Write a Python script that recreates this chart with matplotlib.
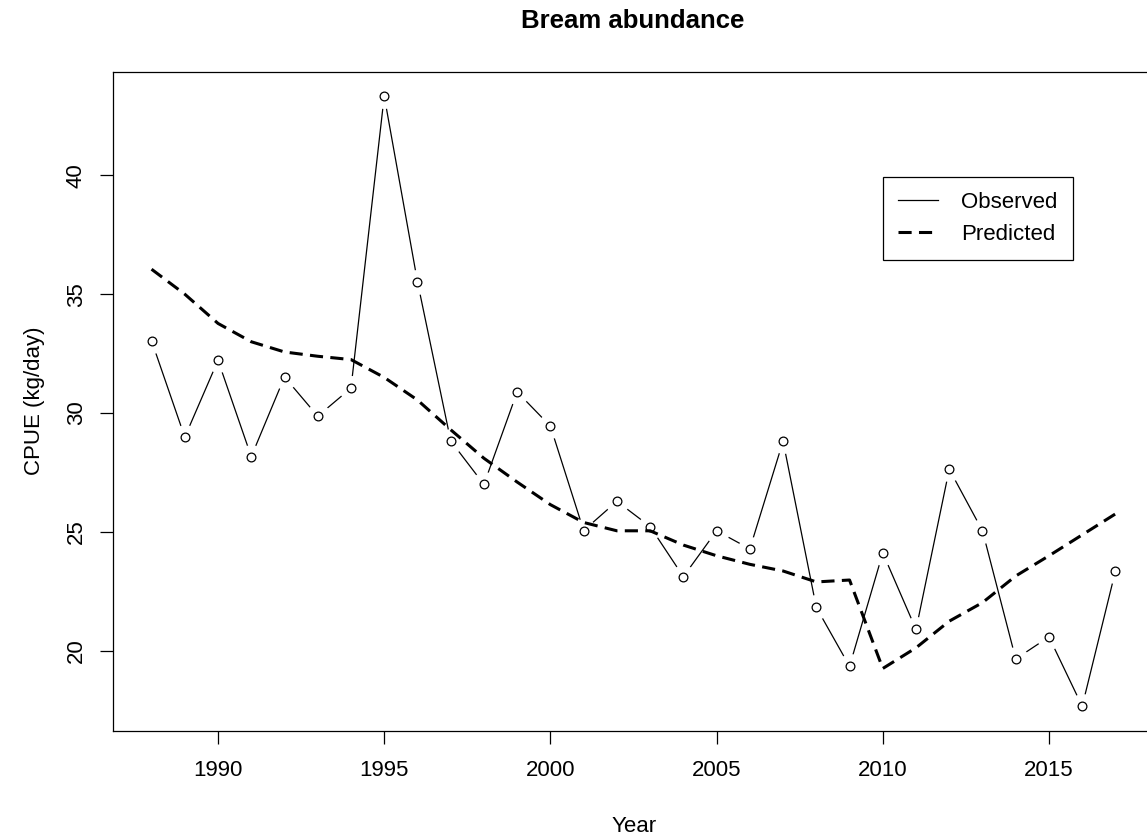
import matplotlib
matplotlib.use("Agg")
import matplotlib.pyplot as plt

plt.rcParams['font.family'] = ['Liberation Sans', 'DejaVu Sans']

# data
years = [1988, 1989, 1990, 1991, 1992, 1993, 1994, 1995, 1996, 1997,
         1998, 1999, 2000, 2001, 2002, 2003, 2004, 2005, 2006, 2007,
         2008, 2009, 2010, 2011, 2012, 2013, 2014, 2015, 2016, 2017]
observed = [33.04, 28.99, 32.22, 28.17, 31.52, 29.87, 31.05, 43.33, 35.53, 28.83,
            27.00, 30.89, 29.45, 25.06, 26.29, 25.23, 23.12, 25.05, 24.29, 28.82,
            21.83, 19.35, 24.12, 20.90, 27.64, 25.05, 19.66, 20.59, 17.67, 23.36]
predicted = [36.05, 35.00, 33.77, 33.00, 32.57, 32.39, 32.25, 31.50, 30.55, 29.30,
             28.10, 27.10, 26.15, 25.40, 25.05, 25.05, 24.45, 24.00, 23.64, 23.36,
             22.90, 22.98, 19.26, 20.13, 21.25, 22.03, 23.15, 24.00, 24.88, 25.76]
xticks = [1990, 1995, 2000, 2005, 2010, 2015]
yticks = [20, 25, 30, 35, 40]

W, H = 1147, 839
fig = plt.figure(figsize=(W / 100, H / 100), dpi=100)
# plot box (right edge falls just outside the image, as in the original)
left, right, top, bottom = 113, 1154, 71.7, 730.7
ax = fig.add_axes([left / W, 1 - bottom / H, (right - left) / W, (bottom - top) / H])

# R style axis limits: 4% padding on each side
def r_lim(vals):
    lo, hi = min(vals), max(vals)
    pad = 0.04 * (hi - lo)
    return lo - pad, hi + pad

ax.set_xlim(*r_lim(years))
ax.set_ylim(*r_lim(observed + predicted))

# observed: thin line with gaps around open circles (type = "b")
ax.plot(years, observed, color='black', lw=0.9, zorder=2)
ax.plot(years, observed, linestyle='none', marker='o', ms=18,
        mfc='white', mec='none', zorder=3)
ax.plot(years, predicted, color='black', lw=2.2, dashes=(4.3, 2.4), zorder=4)
ax.plot(years, observed, linestyle='none', marker='o', ms=6.3,
        mfc='none', mec='black', mew=0.9, zorder=5)

# legend handles
h_obs, = ax.plot([], [], color='black', lw=0.9, label='Observed')
h_pred, = ax.plot([], [], color='black', lw=2.2, dashes=(4.3, 2.4), label='Predicted')
leg = ax.legend(handles=[h_obs, h_pred], loc='upper left',
                bbox_to_anchor=(882.7 / W, 1 - 176.5 / H),
                bbox_transform=fig.transFigure, fontsize=16,
                frameon=True, fancybox=False, framealpha=1, edgecolor='black',
                borderaxespad=0, borderpad=0.68, handlelength=1.8,
                handletextpad=1.05, labelspacing=0.5)
leg.get_frame().set_linewidth(0.9)

ax.set_xticks(xticks)
ax.set_yticks(yticks)
ax.tick_params(axis='both', direction='out', length=9.4, width=0.9,
               labelsize=16, color='black')
ax.tick_params(axis='x', pad=11.5)
ax.tick_params(axis='y', pad=9.5)
for lab in ax.get_yticklabels():
    lab.set_rotation(90)
    lab.set_va('center')
for sp in ax.spines.values():
    sp.set_linewidth(0.9)
    sp.set_color('black')

fig.text(633 / W, 1 - 21 / H, 'Bream abundance', ha='center', va='center',
         fontsize=18.5, fontweight='bold')
fig.text(634 / W, 1 - 826 / H, 'Year', ha='center', va='center', fontsize=16)
fig.text(35 / W, 1 - 401 / H, 'CPUE (kg/day)', ha='center', va='center',
         rotation=90, fontsize=16)

fig.savefig('out.png', dpi=100)
